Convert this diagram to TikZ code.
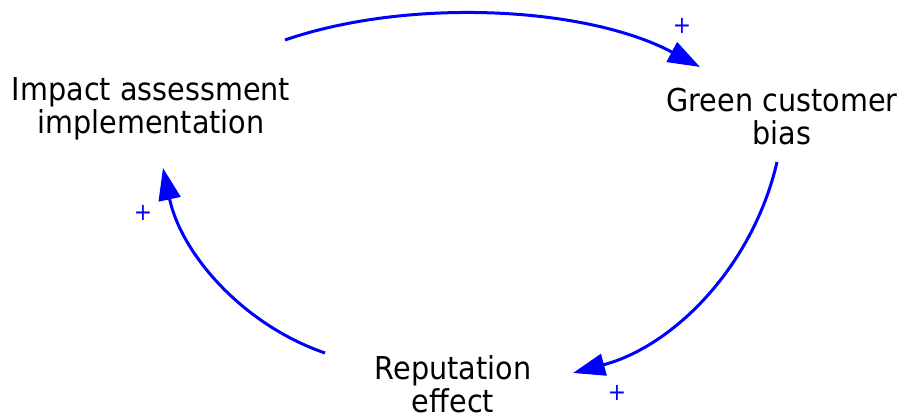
\documentclass[tikz,border=0pt]{standalone}
\usepackage{fontspec}
\setmainfont{DejaVu Sans}[FakeStretch=0.91]
\usetikzlibrary{arrows.meta}
\definecolor{linkblue}{RGB}{0,0,255}
\tikzset{
  var/.style={align=center, inner sep=0pt, text=black,
    font=\fontsize{31.5}{33}\selectfont},
  link/.style={draw=linkblue, line width=3pt,
    -{Triangle[length=32pt,width=22pt]}},
  polarity/.style={text=linkblue, inner sep=0pt,
    font=\fontsize{24}{24}\selectfont}
}
\begin{document}
\begin{tikzpicture}[x=1pt,y=1pt]
  \useasboundingbox (0,0) rectangle (905,-419);

  % variables
  \node[var] (impact) at (151,-109) {Impact assessment\\implementation};
  \node[var] (green)  at (782,-116.5) {Green customer\\bias};
  \node[var] (rep)    at (453,-384.5) {Reputation\\effect};

  % causal links (circular arcs)
  \draw[link] ([shift={(134,69)}]impact.center)
    to[out=19,in=152,looseness=0.8] ([shift={(-82,49.5)}]green.center);
  \draw[link] ([shift={(-5,-45.5)}]green.center)
    to[out=257,in=15,looseness=0.92] ([shift={(120,11.5)}]rep.center);
  \draw[link] ([shift={(-128,31.5)}]rep.center)
    to[out=161,in=282,looseness=0.91] ([shift={(12,-59)}]impact.center);

  % link polarities
  \node[polarity] (p1) at (682,-26) {+};
  \node[polarity] (p2) at (617,-393) {+};
  \node[polarity] (p3) at (143,-213) {+};
\end{tikzpicture}
\end{document}
